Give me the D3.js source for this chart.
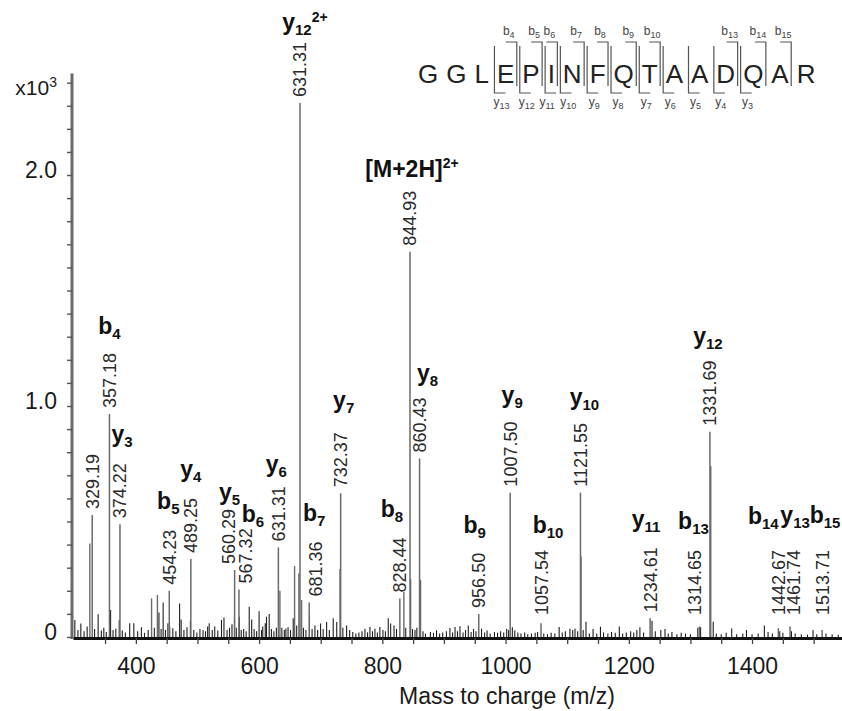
<!DOCTYPE html>
<html>
<head>
<meta charset="utf-8">
<script src="https://cdn.jsdelivr.net/npm/d3@7"></script>
<style>
  html, body { margin: 0; padding: 0; background: #fff; }
  svg { display: block; font-family: "Liberation Sans", Arial, Helvetica, sans-serif; }
</style>
</head>
<body>
<svg id="chart" width="842" height="711"></svg>
<script>
// ---- Annotated peaks: m/z position, intensity (counts), printed m/z text, ion assignment
const peakMz = [329.19, 357.18, 374.22, 454.23, 489.25, 560.29, 567.32, 631.31, 666.35, 681.36,
                732.37, 828.44, 844.93, 860.43, 956.50, 1007.50, 1057.54, 1121.55, 1234.61,
                1314.65, 1331.69, 1442.67, 1461.74, 1513.71];
const peakIntensity = [528, 965, 488, 200, 338, 290, 206, 388, 2312, 149,
                       622, 167, 1668, 773, 100, 625, 59, 625, 81,
                       45, 889, 38, 45, 30];
const peakText = ["329.19", "357.18", "374.22", "454.23", "489.25", "560.29", "567.32", "631.31", "631.31", "681.36",
                  "732.37", "828.44", "844.93", "860.43", "956.50", "1007.50", "1057.54", "1121.55", "1234.61",
                  "1314.65", "1331.69", "1442.67", "1461.74", "1513.71"];
const peakIon = ["", "b4", "y3", "b5", "y4", "y5", "b6", "y6", "y12^2+", "b7",
                 "y7", "b8", "[M+2H]^2+", "y8", "b9", "y9", "b10", "y10", "y11",
                 "b13", "y12", "b14", "y13", "b15"];

// ---- Unannotated peaks: m/z and intensity
const minorMz = [301, 306, 310.7, 316, 321, 325.3, 333, 338.8, 344, 348, 352, 359, 363, 367.5, 373, 378, 383,
  390, 396.7, 403, 409, 414, 420, 425.5, 430, 435, 437.5, 441, 444.3, 448, 452, 455, 460, 465, 471, 473.5,
  478, 483, 488.5, 494, 499, 504, 509, 513, 516.5, 519, 524, 528, 533, 539, 543, 548, 552, 556, 560, 563,
  567.8, 571, 575, 579, 584, 588, 592, 596, 600, 604, 606, 610, 612, 616.4, 620, 624, 628, 633.8, 637, 641,
  643.5, 647, 651, 655.4, 657.6, 661, 664.6, 669, 672, 676, 681.8, 686, 690.6, 695, 699.8, 704, 709.6, 714,
  720.3, 726, 731.3, 736, 742, 747, 752, 757, 762, 767, 771.8, 776, 779.9, 784, 788, 792, 796, 801, 805,
  809.6, 813.5, 819, 823, 835, 838, 845.9, 849, 853, 856, 862, 866, 870, 878, 883, 888, 893, 898, 904,
  909.7, 914, 918, 922, 926, 931, 935, 939.5, 944, 948, 952, 961, 966, 970, 975, 982, 987, 992, 997,
  1001.8, 1005, 1011, 1015, 1020, 1025, 1031, 1036, 1042, 1048, 1052, 1062, 1068, 1074, 1080, 1087, 1092,
  1097, 1104.5, 1109, 1112.7, 1117, 1122.5, 1126, 1130.5, 1136, 1142, 1148, 1154, 1159, 1166, 1172, 1178,
  1184.6, 1190, 1196, 1203, 1208, 1213, 1218, 1224, 1237.7, 1243, 1252, 1258.8, 1264, 1270, 1278, 1285,
  1292, 1300, 1312, 1316.5, 1333, 1337, 1342, 1350, 1358, 1367, 1375, 1385, 1391, 1400, 1410, 1420, 1426,
  1433, 1445, 1450, 1464, 1470, 1480, 1490, 1499, 1505, 1520, 1530, 1540];
const minorIntensity = [74, 30, 58, 25, 45, 405, 35, 98, 28, 40, 22, 117, 30, 37, 72, 28, 20,
  60, 60, 25, 42, 18, 30, 167, 40, 182, 106, 35, 149, 30, 60, 45, 38, 25, 145, 76,
  30, 42, 70, 30, 20, 35, 30, 25, 45, 60, 30, 45, 28, 74, 84, 30, 40, 55, 86, 40,
  88, 30, 35, 25, 131, 76, 35, 25, 112, 30, 45, 60, 88, 100, 35, 25, 40, 200, 40, 30,
  37, 42, 30, 81, 307, 50, 276, 160, 40, 30, 96, 35, 50, 30, 58, 35, 65, 30,
  81, 65, 294, 40, 50, 30, 22, 15, 20, 25, 36, 20, 43, 25, 36, 20, 43, 30, 25,
  81, 58, 50, 35, 195, 40, 250, 35, 30, 40, 247, 25, 15, 22, 18, 29, 15, 20, 25,
  39, 20, 43, 25, 46, 20, 30, 50, 22, 35, 25, 36, 20, 28, 15, 22, 18, 25, 20,
  36, 30, 42, 28, 20, 15, 20, 12, 15, 18, 22, 15, 12, 18, 15, 43, 20,
  25, 36, 30, 36, 25, 348, 30, 66, 15, 35, 15, 45, 20, 15, 22, 18,
  45, 15, 20, 25, 20, 30, 42, 20, 70, 25, 30, 35, 15, 22, 12, 18,
  15, 12, 40, 42, 740, 66, 15, 12, 18, 37, 12, 15, 30, 12, 15, 50, 22,
  15, 25, 18, 25, 15, 12, 10, 30, 12, 15, 12, 10];

// ---- Axis tick labels
const yLabelValues = [0, 1000, 2000];
const yLabelText = ["0", "1.0", "2.0"];
const xLabelValues = [400, 600, 800, 1000, 1200, 1400];

// ---- Peptide sequence and observed fragment series
const sequence = ["G", "G", "L", "E", "P", "I", "N", "F", "Q", "T", "A", "A", "D", "Q", "A", "R"];
const bSeries = [4, 5, 6, 7, 8, 9, 10, 13, 14, 15];
const ySeries = [3, 4, 5, 6, 7, 8, 9, 10, 11, 12, 13];

// label placement tweaks (ion label [dx, dy] from peak line / top of m/z text)
const ionPlacement = {
  "b4": [0, -19], "y3": [2, -21], "b5": [-1, -21], "y4": [0, -21], "y5": [-5, -9],
  "b6": [14, -6], "y6": [-2, -14], "y12^2+": [5, -12], "b7": [5, -21], "y7": [3, -24],
  "b8": [-8, -20], "[M+2H]^2+": [2, -14], "y8": [8, -16], "b9": [-4, -20], "y9": [2, -19],
  "b10": [7, -17], "y10": [4, -18], "y11": [-4, -20], "b13": [-6, -21], "y12": [-2, -17],
  "b14": [-15, -26], "y13": [5, -27], "b15": [3, -27]
};
const textShift = { "560.29": -6, "567.32": 7, "681.36": 6, "1314.65": -5, "1461.74": 3 };
const seqLabelShift = { y11: -5, y10: 1 };

const svg = d3.select("#chart");

const x = d3.scaleLinear().domain([298, 1546]).range([73, 842]);
const y = d3.scaleLinear().domain([0, 2440]).range([637, 73.4]);

// ---- peaks
const minor = minorMz.map((m, i) => ({ mz: m, v: minorIntensity[i] }));
const peaks = peakMz.map((m, i) => ({ mz: m, v: peakIntensity[i], text: peakText[i], ion: peakIon[i] }));

const peakG = svg.append("g");
peakG.selectAll("line.minor").data(minor).join("line")
  .attr("class", "minor")
  .attr("x1", d => x(d.mz)).attr("x2", d => x(d.mz))
  .attr("y1", y(0)).attr("y2", d => y(d.v))
  .attr("stroke", d => d.v > 150 ? "#6a6a6a" : "#1e1e1e")
  .attr("stroke-width", d => d.v > 150 ? 1.4 : 1.1);

peakG.selectAll("line.major").data(peaks).join("line")
  .attr("class", "major")
  .attr("x1", d => x(d.mz)).attr("x2", d => x(d.mz))
  .attr("y1", y(0)).attr("y2", d => y(d.v))
  .attr("stroke", "#6a6a6a")
  .attr("stroke-width", 1.5);

// ---- axes
const yAxis = d3.axisLeft(y)
  .tickValues(d3.range(0, 2401, 100))
  .tickSize(5).tickSizeOuter(0).tickPadding(10)
  .tickFormat(d => { const k = yLabelValues.indexOf(d); return k >= 0 ? yLabelText[k] : ""; });
const gy = svg.append("g").attr("transform", "translate(72,0)").call(yAxis);
gy.select(".domain").attr("d", `M0,${y(0) + 2}V${y(2440)}`).attr("stroke", "#6a6a6a").attr("stroke-width", 3);
gy.selectAll(".tick line").attr("stroke", "#555").attr("stroke-width", 1.4);
gy.selectAll(".tick text").attr("font-size", 23).attr("fill", "#1a1a1a").attr("dy", "0.1em")
  .attr("font-family", "'Liberation Sans', Arial, sans-serif");

const exp = svg.append("text").attr("x", 57).attr("y", y(2400) + 12)
  .attr("text-anchor", "end").attr("font-size", 21).attr("fill", "#1a1a1a");
exp.append("tspan").text("x10");
exp.append("tspan").attr("font-size", 14).attr("dy", -8).text("3");

const xAxis = d3.axisBottom(x)
  .tickValues(d3.range(350, 1501, 50))
  .tickSize(6).tickSizeOuter(0).tickPadding(14)
  .tickFormat(d => xLabelValues.includes(d) ? d : "");
const gx = svg.append("g").attr("transform", "translate(0,638)").call(xAxis);
gx.select(".domain").attr("stroke", "#111").attr("stroke-width", 3);
gx.selectAll(".tick line").attr("stroke", "#444").attr("stroke-width", 1.3);
gx.selectAll(".tick text").attr("font-size", 23).attr("fill", "#1a1a1a")
  .attr("font-family", "'Liberation Sans', Arial, sans-serif");

svg.append("text").attr("x", 507).attr("y", 704).attr("text-anchor", "middle")
  .attr("font-size", 23).attr("fill", "#1a1a1a").text("Mass to charge (m/z)");

// ---- peak annotations
const annG = svg.append("g");
function ionLabel(g, name, cx, baseline) {
  const t = g.append("text").attr("x", cx).attr("y", baseline)
    .attr("text-anchor", "middle").attr("font-weight", "bold").attr("font-size", 23).attr("fill", "#111");
  let main = name, sub = "", sup = "";
  if (name.includes("^")) { sup = name.split("^")[1]; main = name.split("^")[0]; }
  const m = main.match(/^([by])(\d+)$/);
  if (m) { main = m[1]; sub = m[2]; }
  t.append("tspan").text(main);
  if (sub) t.append("tspan").attr("font-size", 15).attr("dy", 5).text(sub);
  if (sup) t.append("tspan").attr("font-size", 14).attr("dy", sub ? -13 : -9).text(sup);
}

peaks.forEach(p => {
  const px = x(p.mz);
  const bottom = Math.min(y(p.v) - 6, 615);
  const sx = px + (textShift[p.text] || 0);
  const t = annG.append("text")
    .attr("transform", `translate(${sx},${bottom}) rotate(-90)`)
    .attr("dy", "0.36em").attr("font-size", 18).attr("fill", "#2a2a2a")
    .text(p.text);
  const len = t.node().getComputedTextLength();
  if (p.ion) {
    const off = ionPlacement[p.ion] || [0, -19];
    ionLabel(annG, p.ion, px + off[0], bottom - len + off[1]);
  }
});

// ---- peptide sequence with fragmentation sites
const seqG = svg.append("g");
const seqSize = 26, gap = 8, seqBase = 83;
const probe = seqG.append("text").attr("font-size", seqSize);
const widths = sequence.map(r => { probe.text(r); return probe.node().getComputedTextLength(); });
probe.remove();
const lefts = [];
let cursor = 418;
widths.forEach(w => { lefts.push(cursor); cursor += w + gap; });

seqG.selectAll("text.res").data(sequence).join("text")
  .attr("class", "res")
  .attr("x", (d, i) => lefts[i]).attr("y", seqBase)
  .attr("font-size", seqSize).attr("fill", "#222").text(d => d);

// boundary after residue k (1-based)
const boundary = k => (lefts[k - 1] + widths[k - 1] + lefts[k]) / 2;

function smallIon(letter, num, cx, base) {
  const t = seqG.append("text").attr("x", cx).attr("y", base).attr("text-anchor", "middle")
    .attr("font-size", 12).attr("fill", "#444");
  t.append("tspan").text(letter);
  t.append("tspan").attr("font-size", 9).attr("dy", 3).text(num);
}

bSeries.forEach(n => {
  const bx = boundary(n) - 1.5;
  seqG.append("path").attr("d", `M${bx - 11},42H${bx}V86`)
    .attr("fill", "none").attr("stroke", "#555").attr("stroke-width", 1.2);
  smallIon("b", n, bx - 8, 35);
});
ySeries.forEach(n => {
  const yx = boundary(sequence.length - n) + 1.5;
  seqG.append("path").attr("d", `M${yx},46V93H${yx + 11}`)
    .attr("fill", "none").attr("stroke", "#555").attr("stroke-width", 1.2);
  smallIon("y", n, yx + 7 + (seqLabelShift["y" + n] || 0), 106);
});
</script>
</body>
</html>
